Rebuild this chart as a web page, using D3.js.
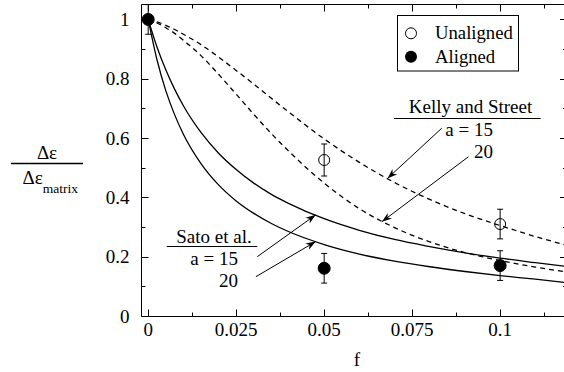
<!DOCTYPE html>
<html>
<head>
<meta charset="utf-8">
<script src="https://cdn.jsdelivr.net/npm/d3@7"></script>
<style>
  body { margin: 0; background: #fff; }
</style>
</head>
<body>
<svg id="chart" width="564" height="372"></svg>
<script>
// data
let fGrid = [0, 0.0025, 0.005, 0.0075, 0.01, 0.015, 0.02, 0.025, 0.03, 0.035, 0.04, 0.05, 0.06, 0.07, 0.08, 0.09, 0.1, 0.11, 0.119];
let sato15 = [1, 0.907, 0.83, 0.765, 0.709, 0.619, 0.549, 0.494, 0.448, 0.41, 0.379, 0.328, 0.289, 0.258, 0.234, 0.213, 0.195, 0.18, 0.167];
let sato20 = [1, 0.864, 0.76, 0.679, 0.613, 0.514, 0.442, 0.388, 0.346, 0.312, 0.284, 0.241, 0.209, 0.185, 0.166, 0.15, 0.136, 0.124, 0.112];
let kelly15 = [1, 0.992, 0.98, 0.966, 0.95, 0.915, 0.873, 0.828, 0.782, 0.734, 0.687, 0.597, 0.518, 0.45, 0.393, 0.345, 0.305, 0.268, 0.238];
let kelly20 = [1, 0.988, 0.972, 0.953, 0.93, 0.878, 0.815, 0.748, 0.68, 0.615, 0.555, 0.448, 0.362, 0.298, 0.25, 0.214, 0.187, 0.165, 0.148];

let unalignedF = [0.05, 0.1];
let unalignedV = [0.526, 0.31];
let unalignedErr = [0.054, 0.05];
let alignedF = [0, 0.05, 0.1];
let alignedV = [1.0, 0.161, 0.17];
let alignedErr = [0.05, 0.05, 0.05];

let xTicks = [0, 0.025, 0.05, 0.075, 0.1];
let xTickLabels = ["0", "0.025", "0.05", "0.075", "0.1"];
let yTicks = [0, 0.2, 0.4, 0.6, 0.8, 1];
let yTickLabels = ["0", "0.2", "0.4", "0.6", "0.8", "1"];

var FONT = "'Liberation Serif'";

// scales
var svg = d3.select("#chart");
var x = d3.scaleLinear().domain([-0.0019, 0.119]).range([141.5, 567]);
var y = d3.scaleLinear().domain([0, 1.052]).range([316, 4]);
var pLeft = 141.5, pRight = 567, pTop = 4.5, pBottom = 316.5;

// clip + arrow marker
var defs = svg.append("defs");
defs.append("clipPath").attr("id", "plotClip")
  .append("rect").attr("x", pLeft).attr("y", pTop).attr("width", pRight - pLeft).attr("height", pBottom - pTop);
defs.append("marker")
  .attr("id", "arrow")
  .attr("viewBox", "0 0 10 10")
  .attr("refX", 10).attr("refY", 5)
  .attr("markerWidth", 10).attr("markerHeight", 10)
  .attr("markerUnits", "userSpaceOnUse")
  .attr("orient", "auto")
  .append("path")
  .attr("d", "M0,1.5 L10,5 L0,8.5 L3,5 Z")
  .attr("fill", "#000");

// text helper
function addText(g, tx, ty, str, size, anchor) {
  return g.append("text")
    .attr("x", tx).attr("y", ty)
    .attr("font-family", FONT)
    .attr("text-anchor", anchor || "start")
    .style("font-size", size + "px")
    .style("fill", "#000")
    .text(str);
}

// frame
var frame = svg.append("g").attr("stroke", "#000").attr("stroke-width", 1).attr("fill", "none");
frame.append("line").attr("x1", pLeft).attr("x2", pLeft).attr("y1", pTop).attr("y2", pBottom);
frame.append("line").attr("x1", pLeft).attr("x2", pRight).attr("y1", pBottom).attr("y2", pBottom);
frame.append("line").attr("x1", pLeft).attr("x2", pRight).attr("y1", pTop).attr("y2", pTop);
frame.append("line").attr("x1", pRight).attr("x2", pRight).attr("y1", pTop).attr("y2", pBottom);

// ticks (inward)
var xMinor = d3.range(0, 0.119, 0.0125);
xMinor.forEach(function (t, i) {
  var len = i % 2 === 0 ? 7 : 4;
  var px = Math.round(x(t)) + 0.5;
  frame.append("line").attr("x1", px).attr("x2", px).attr("y1", pBottom).attr("y2", pBottom - len);
  frame.append("line").attr("x1", px).attr("x2", px).attr("y1", pTop).attr("y2", pTop + len);
});
var yMinor = d3.range(0, 1.01, 0.1);
yMinor.forEach(function (t, i) {
  var len = i % 2 === 0 ? 7 : 4;
  var py = Math.round(y(t)) + 0.5;
  frame.append("line").attr("x1", pLeft).attr("x2", pLeft + len).attr("y1", py).attr("y2", py);
  frame.append("line").attr("x1", pRight).attr("x2", pRight - len).attr("y1", py).attr("y2", py);
});

// tick labels
var tl = svg.append("g");
xTicks.forEach(function (d, i) {
  addText(tl, x(d), 335.5, xTickLabels[i], 19, "middle");
});
yTicks.forEach(function (d, i) {
  addText(tl, 129.5, y(d) + 6.5, yTickLabels[i], 19, "end");
});

// axis titles
addText(svg, 357, 366, "f", 19, "middle");
addText(svg, 47, 159, "Δε", 19, "middle");
svg.append("line").attr("x1", 11).attr("x2", 83).attr("y1", 163.5).attr("y2", 163.5)
  .attr("stroke", "#000").attr("stroke-width", 1.3);
var denom = addText(svg, 22.5, 184, "", 19);
denom.append("tspan").text("Δε");
denom.append("tspan").attr("dy", 8.5).style("font-size", "13.5px").text("matrix");

// curves
var line = d3.line()
  .x(function (d) { return x(d[0]); })
  .y(function (d) { return y(d[1]); })
  .curve(d3.curveMonotoneX);
var curves = [
  { v: sato15, dash: null },
  { v: sato20, dash: null },
  { v: kelly15, dash: "5,4" },
  { v: kelly20, dash: "5,4" }
];
var curveG = svg.append("g").attr("clip-path", "url(#plotClip)");
curves.forEach(function (c) {
  curveG.append("path")
    .attr("d", line(d3.zip(fGrid, c.v)))
    .attr("fill", "none")
    .attr("stroke", "#000")
    .attr("stroke-width", 1.3)
    .attr("stroke-dasharray", c.dash);
});

// error bars + points
function drawPoints(fs, vs, es, filled) {
  var g = svg.append("g");
  fs.forEach(function (f, i) {
    var cx = x(f);
    var y1 = y(vs[i] + es[i]), y2 = y(vs[i] - es[i]);
    g.append("line").attr("x1", cx).attr("x2", cx).attr("y1", y1).attr("y2", y2).attr("stroke", "#000");
    g.append("line").attr("x1", cx - 3).attr("x2", cx + 3).attr("y1", y1).attr("y2", y1).attr("stroke", "#000");
    g.append("line").attr("x1", cx - 3).attr("x2", cx + 3).attr("y1", y2).attr("y2", y2).attr("stroke", "#000");
    g.append("circle").attr("cx", cx).attr("cy", y(vs[i]))
      .attr("r", filled ? 6 : 5.5)
      .attr("fill", filled ? "#000" : "none")
      .attr("stroke", "#000").attr("stroke-width", 1);
  });
}
drawPoints(unalignedF, unalignedV, unalignedErr, false);
drawPoints(alignedF, alignedV, alignedErr, true);

// legend
var lg = svg.append("g");
lg.append("rect").attr("x", 397.5).attr("y", 15.5).attr("width", 121).attr("height", 55.5)
  .attr("fill", "#fff").attr("stroke", "#000");
lg.append("circle").attr("cx", 411).attr("cy", 33.3).attr("r", 5.5).attr("fill", "none").attr("stroke", "#000");
lg.append("circle").attr("cx", 411).attr("cy", 56.7).attr("r", 6).attr("fill", "#000");
addText(lg, 435, 39, "Unaligned", 18.7);
addText(lg, 435, 62.5, "Aligned", 18.7);

// annotations
function label(g, title, cx, by, ulx1, ulx2, uly, rx, by15, by20) {
  addText(g, cx, by, title, 19, "middle");
  g.append("line").attr("x1", ulx1).attr("x2", ulx2).attr("y1", uly).attr("y2", uly).attr("stroke", "#000");
  addText(g, rx, by15, "a = 15", 19, "end");
  addText(g, rx, by20, "20", 19, "end");
}
var ann = svg.append("g");
label(ann, "Sato et al.", 214, 242.7, 166.7, 257.3, 246.5, 238, 265, 287.3);
label(ann, "Kelly and Street", 470.5, 112.7, 394, 540.7, 118.5, 493, 136, 158.3);

let arrowFrom = [[0.031, 0.2], [0.0306, 0.1325], [0.0834, 0.633], [0.091, 0.537]];
let arrowTo = [[0.0476, 0.341], [0.0476, 0.251], [0.068, 0.464], [0.0664, 0.318]];
arrowFrom.forEach(function (a, i) {
  ann.append("line")
    .attr("x1", x(a[0])).attr("y1", y(a[1]))
    .attr("x2", x(arrowTo[i][0])).attr("y2", y(arrowTo[i][1]))
    .attr("stroke", "#000").attr("stroke-width", 1)
    .attr("marker-end", "url(#arrow)");
});
</script>
</body>
</html>
